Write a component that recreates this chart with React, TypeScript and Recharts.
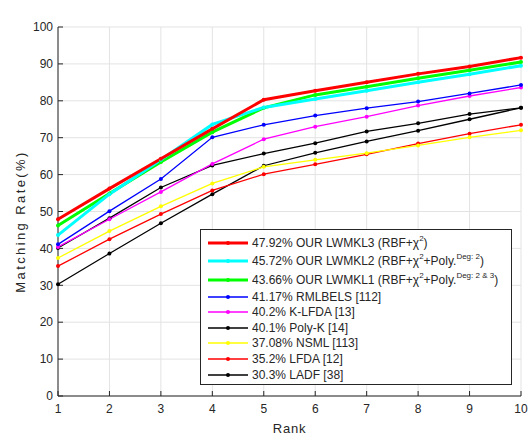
import { CartesianGrid, Legend, Line, LineChart, XAxis, YAxis } from "recharts";

const TITLE = "CMC Curves on CAVIAR4REID (p=36, Single-Shot)";
const X_LABEL = "Rank";
const Y_LABEL = "Matching Rate(%)";

const RANKS = [1, 2, 3, 4, 5, 6, 7, 8, 9, 10];
const Y_TICKS = [0, 10, 20, 30, 40, 50, 60, 70, 80, 90, 100];

// rank-k matching rates
const LWMKL3 = [47.9, 56.2, 64.3, 72.4, 80.3, 82.7, 85.0, 87.3, 89.3, 91.7];
const LWMKL2 = [43.6, 54.7, 64.0, 73.6, 78.2, 80.5, 82.7, 85.0, 87.2, 89.5];
const LWMKL1 = [46.2, 54.9, 63.4, 71.5, 78.1, 81.6, 83.8, 86.1, 88.3, 90.5];
const RMLBELS = [41.1, 50.1, 58.8, 70.1, 73.5, 76.0, 78.0, 79.8, 82.0, 84.3];
const KLFDA = [40.4, 47.9, 55.3, 62.9, 69.6, 73.0, 75.7, 78.7, 81.3, 83.6];
const POLYK = [40.1, 48.2, 56.5, 62.5, 65.7, 68.5, 71.7, 73.9, 76.4, 78.1];
const NSML = [37.4, 44.7, 51.4, 57.6, 62.1, 64.0, 65.8, 67.9, 70.1, 72.0];
const LFDA = [35.2, 42.5, 49.3, 55.7, 60.1, 62.8, 65.5, 68.4, 71.1, 73.5];
const LADF = [30.3, 38.6, 46.8, 54.7, 62.4, 65.9, 69.0, 71.9, 75.0, 78.1];

// "^" marks a superscript piece
const LEGEND_LABELS = [
  ["47.92% OUR LWMKL3 (RBF+χ", "^2", ")"],
  ["45.72% OUR LWMKL2 (RBF+χ", "^2", "+Poly.", "^Deg: 2", ")"],
  ["43.66% OUR LWMKL1 (RBF+χ", "^2", "+Poly.", "^Deg: 2 & 3", ")"],
  ["41.17% RMLBELS [112]"],
  ["40.2% K-LFDA [13]"],
  ["40.1% Poly-K [14]"],
  ["37.08% NSML [113]"],
  ["35.2% LFDA [12]"],
  ["30.3% LADF [38]"],
];

const KEYS = ["lwmkl3", "lwmkl2", "lwmkl1", "rmlbels", "klfda", "polyk", "nsml", "lfda", "ladf"];
const VALUES = [LWMKL3, LWMKL2, LWMKL1, RMLBELS, KLFDA, POLYK, NSML, LFDA, LADF];

const COLORS = ["#ff0000", "#00ffff", "#00ff00", "#0000ff", "#ff00ff", "#000000", "#ffff00", "#ff0000", "#000000"];
const THICK = [true, true, true, false, false, false, false, false, false];

const FONT = '"Liberation Sans", Arial, Helvetica, sans-serif';
const INK = "#262626";

const data = RANKS.map((rank, i) => {
  const row: Record<string, number> = { rank };
  KEYS.forEach((k, j) => {
    row[k] = VALUES[j][i];
  });
  return row;
});

function LegendBox() {
  return (
    <div
      style={{
        border: `1px solid ${INK}`,
        background: "#fff",
        padding: "4px 0 2px 0",
        fontFamily: FONT,
        fontSize: 12,
        color: INK,
        boxSizing: "border-box",
      }}
    >
      {LEGEND_LABELS.map((parts, i) => {
        const hasSup = parts.some((p) => p.startsWith("^"));
        return (
          <div
            key={KEYS[i]}
            style={{ display: "flex", alignItems: "center", height: hasSup ? 18.3 : 15.6 }}
          >
            <svg width={45} height={10} style={{ marginLeft: 6, flexShrink: 0 }}>
              <line x1={1} x2={41} y1={5} y2={5} stroke={COLORS[i]} strokeWidth={THICK[i] ? 3 : 1.3} />
              <circle cx={21} cy={5} r={2} fill={COLORS[i]} />
            </svg>
            <span style={{ whiteSpace: "nowrap" }}>
              {parts.map((p, j) =>
                p.startsWith("^") ? (
                  <span key={j} style={{ fontSize: 8, position: "relative", top: -6 }}>
                    {p.slice(1)}
                  </span>
                ) : (
                  <span key={j}>{p}</span>
                )
              )}
            </span>
          </div>
        );
      })}
    </div>
  );
}

const tickStyle = { fontSize: 12, fill: INK, fontFamily: FONT };

export default function App() {
  const order = KEYS.map((_, i) => i).reverse();
  return (
    <div style={{ position: "absolute", left: 0, top: 0, background: "#fff" }}>
      <LineChart
        width={528}
        height={437}
        data={data}
        margin={{ top: 27, right: 7, bottom: 0, left: 0 }}
        style={{ fontFamily: FONT }}
      >
        <CartesianGrid stroke="#e3e3e3" strokeWidth={1} />
        <XAxis
          dataKey="rank"
          type="number"
          domain={[1, 10]}
          ticks={RANKS}
          height={41}
          tickSize={-5}
          tickMargin={13}
          tick={tickStyle}
          axisLine={{ stroke: INK }}
          tickLine={{ stroke: INK }}
          label={(props: any) => {
            const vb = props.viewBox || { x: 58, y: 396, width: 463, height: 41 };
            return (
              <text
                x={vb.x + vb.width / 2}
                y={vb.y + vb.height - 4}
                textAnchor="middle"
                fontSize={13}
                letterSpacing={0.8}
                fill={INK}
                fontFamily={FONT}
              >
                {X_LABEL}
              </text>
            );
          }}
        />
        <XAxis
          xAxisId="top"
          dataKey="rank"
          orientation="top"
          type="number"
          domain={[1, 10]}
          ticks={RANKS}
          height={0}
          tick={false}
          tickSize={-5}
          axisLine={{ stroke: INK }}
          tickLine={{ stroke: INK }}
          label={(props: any) => {
            const vb = props.viewBox || { x: 58, y: 27, width: 463, height: 0 };
            return (
              <text
                x={vb.x + vb.width / 2}
                y={vb.y - 7}
                textAnchor="middle"
                fontSize={13}
                letterSpacing={0.15}
                fontWeight="bold"
                fill="#000"
                fontFamily={FONT}
              >
                {TITLE}
              </text>
            );
          }}
        />
        <YAxis
          type="number"
          domain={[0, 100]}
          ticks={Y_TICKS}
          width={58}
          tickSize={-5}
          tickMargin={10}
          tick={tickStyle}
          axisLine={{ stroke: INK }}
          tickLine={{ stroke: INK }}
          label={(props: any) => {
            const vb = props.viewBox || { x: 0, y: 27, width: 58, height: 369 };
            const cx = vb.x + 25;
            const cy = vb.y + vb.height / 2 + 10;
            return (
              <text
                x={cx}
                y={cy}
                transform={`rotate(-90 ${cx} ${cy})`}
                textAnchor="middle"
                fontSize={13}
                letterSpacing={2.4}
                fill={INK}
                fontFamily={FONT}
              >
                {Y_LABEL}
              </text>
            );
          }}
        />
        <YAxis
          yAxisId="right"
          orientation="right"
          type="number"
          domain={[0, 100]}
          ticks={Y_TICKS}
          width={0}
          tick={false}
          tickSize={-5}
          axisLine={{ stroke: INK }}
          tickLine={{ stroke: INK }}
        />
        {order.map((i) => (
          <Line
            key={KEYS[i]}
            type="linear"
            dataKey={KEYS[i]}
            name={LEGEND_LABELS[i].join("")}
            stroke={COLORS[i]}
            strokeWidth={THICK[i] ? 3 : 1.3}
            dot={{ r: 2, fill: COLORS[i], stroke: COLORS[i], strokeWidth: 0 }}
            activeDot={false}
            isAnimationActive={false}
          />
        ))}
        <Legend
          layout="vertical"
          align="center"
          verticalAlign="middle"
          wrapperStyle={{ left: 200, top: 229, width: 312 }}
          content={() => <LegendBox />}
        />
      </LineChart>
    </div>
  );
}
